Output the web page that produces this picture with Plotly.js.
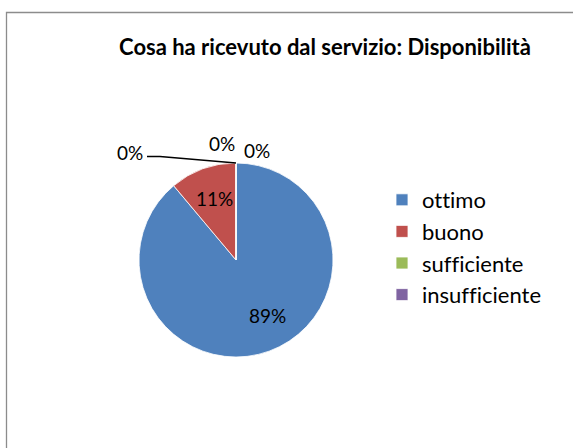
<!DOCTYPE html>
<html>
<head>
<meta charset="utf-8">
<script src="https://cdn.plot.ly/plotly-3.0.1.min.js"></script>
<style>html,body{margin:0;padding:0;background:#fff;}#chart{width:573px;height:448px;}
text{font-variant-ligatures:none;font-feature-settings:"liga" 0,"clig" 0;}</style>
</head>
<body>
<div id="chart"></div>
<script>
// Data
const categories = ["ottimo", "buono", "sufficiente", "insufficiente"];
const values = [8, 1, 0, 0];
const colors = ["#4F81BD", "#C0504D", "#9BBB59", "#8064A2"];
const titleText = "Cosa ha ricevuto dal servizio: Disponibilità";

const W = 573, H = 448;
const px = x => x / W;
const py = y => 1 - y / H;

const total = values.reduce((a, b) => a + b, 0);
const pct = values.map(v => Math.round(100 * v / total) + "%");

const FONT = "Lato, 'Open Sans', sans-serif";
const LBL = 19;

const annotations = [];
// labels of non-zero slices (Excel data-label positions)
const insidePos = [[267, 315], [214, 198]];
insidePos.forEach((p, i) => {
  annotations.push({
    x: px(p[0]), y: py(p[1]), xref: "paper", yref: "paper",
    text: pct[i], showarrow: false,
    font: {family: FONT, size: LBL, color: "#000"},
    xanchor: "center", yanchor: "middle"
  });
});
// outside leader labels for zero-value slices
const zeroLabelPos = [[130, 152], [222, 143], [257, 150]];
const zeroTexts = [pct[2], pct[2], pct[3]];
zeroLabelPos.forEach((p, k) => {
  annotations.push({
    x: px(p[0]), y: py(p[1]), xref: "paper", yref: "paper",
    text: zeroTexts[k], showarrow: false,
    font: {family: FONT, size: LBL, color: "#000"},
    xanchor: "center", yanchor: "middle"
  });
});

const data = [{
  type: "pie",
  labels: categories,
  values: values,
  sort: false,
  direction: "clockwise",
  rotation: 0,
  marker: {colors: colors, line: {color: "#ffffff", width: 0.8}},
  textinfo: "none",
  hoverinfo: "label+percent",
  domain: {x: [px(139), px(333)], y: [py(357), py(163)]},
  showlegend: true
}];

const layout = {
  width: W, height: H,
  margin: {l: 0, r: 0, t: 0, b: 0},
  paper_bgcolor: "#fff",
  title: {
    text: "<b>" + titleText + "</b>",
    font: {family: FONT, size: 22, color: "#000"},
    x: px(325), xanchor: "center",
    y: py(47), yanchor: "middle"
  },
  legend: {
    x: px(382), y: py(179), xanchor: "left", yanchor: "top",
    font: {family: FONT, size: 22, color: "#000"},
    bgcolor: "rgba(0,0,0,0)"
  },
  annotations: annotations,
  shapes: [
    {type: "rect", xref: "paper", yref: "paper",
     x0: px(6.5), x1: 1.2, y0: -0.2, y1: py(12.5),
     line: {color: "#8c8c8c", width: 1.3}, fillcolor: "rgba(0,0,0,0)"},
    {type: "path", xref: "paper", yref: "paper",
     path: "M" + px(147) + "," + py(156.5) + " L" + px(160) + "," + py(156.5) + " L" + px(236) + "," + py(163),
     line: {color: "#000", width: 1.5}}
  ]
};

Plotly.newPlot("chart", data, layout, {displayModeBar: false, staticPlot: true});
</script>
</body>
</html>
